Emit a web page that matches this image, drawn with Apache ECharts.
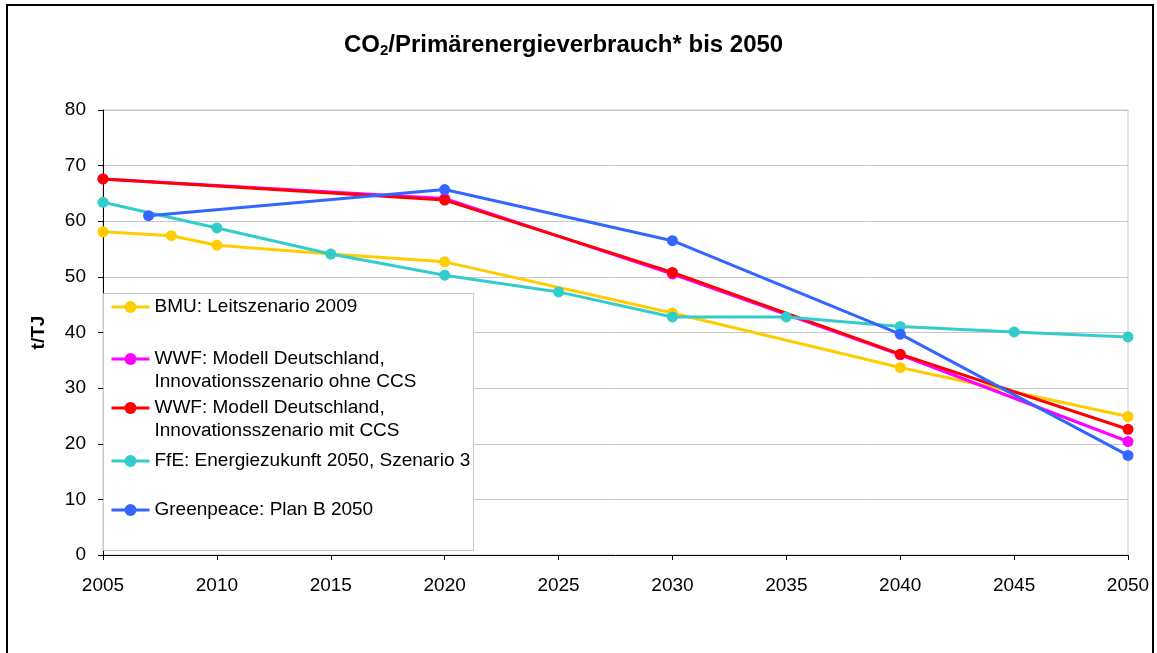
<!DOCTYPE html>
<html>
<head>
<meta charset="utf-8">
<script src="https://cdn.jsdelivr.net/npm/echarts@6/dist/echarts.min.js"></script>
<style>
  html, body { margin: 0; padding: 0; background: #fff; }
  #main { width: 1157px; height: 653px; }
</style>
</head>
<body>
<div id="main"></div>
<script>
// Daten (t/TJ)
var bmuYears = [2005, 2008, 2010, 2015, 2020, 2030, 2040, 2050];
var bmuValues = [58.1, 57.4, 55.7, 54.1, 52.7, 43.5, 33.7, 24.9];

var wwfOhneYears = [2005, 2020, 2030, 2040, 2050];
var wwfOhneValues = [67.6, 64.1, 50.5, 36.0, 20.4];

var wwfMitYears = [2005, 2020, 2030, 2040, 2050];
var wwfMitValues = [67.6, 63.8, 50.8, 36.1, 22.6];

var ffeYears = [2005, 2010, 2015, 2020, 2025, 2030, 2035, 2040, 2045, 2050];
var ffeValues = [63.4, 58.8, 54.1, 50.3, 47.3, 42.8, 42.8, 41.1, 40.1, 39.2];

var gpYears = [2007, 2020, 2030, 2040, 2050];
var gpValues = [61.0, 65.7, 56.5, 39.7, 17.9];

var names = [
    'BMU: Leitszenario 2009',
    'WWF: Modell Deutschland,\nInnovationsszenario ohne CCS',
    'WWF: Modell Deutschland,\nInnovationsszenario mit CCS',
    'FfE: Energiezukunft 2050, Szenario 3',
    'Greenpeace: Plan B 2050'
];
var colors = ['#FFCC00', '#FF00FF', '#FF0000', '#33CCCC', '#3366FF'];

function pairs(xs, ys) {
    var out = [];
    for (var i = 0; i < xs.length; i++) out.push([xs[i], ys[i]]);
    return out;
}

var seriesData = [
    pairs(bmuYears, bmuValues),
    pairs(wwfOhneYears, wwfOhneValues),
    pairs(wwfMitYears, wwfMitValues),
    pairs(ffeYears, ffeValues),
    pairs(gpYears, gpValues)
];

var FONT = '"Liberation Sans", Arial, sans-serif';

var myChart = echarts.init(document.getElementById('main'));

// Legende: Mittelpunkt des Symbols je Eintrag (px)
var legendCenters = [307, 359, 408, 461, 510];
var legends = names.map(function (n, i) {
    var twoLine = n.indexOf('\n') >= 0;
    return {
        left: 110,
        top: twoLine ? legendCenters[i] - 34.5 : legendCenters[i] - 11.5,
        padding: 0,
        itemWidth: 38,
        itemHeight: 15,
        itemGap: 5,
        selectedMode: false,
        data: [n],
        lineStyle: { width: 3 },
        // leere erste Zeile, damit das Symbol an der ersten Textzeile steht
        formatter: function (name) {
            return name.indexOf('\n') >= 0 ? ' \n' + name : name;
        },
        textStyle: {
            fontFamily: FONT,
            fontSize: 19,
            lineHeight: 23,
            color: '#000'
        },
        z: 10
    };
});

option = {
    animation: false,
    backgroundColor: '#fff',
    title: {
        text: 'CO{sub|2}/Primärenergieverbrauch* bis 2050',
        left: 339,
        top: 27,
        textStyle: {
            fontFamily: FONT,
            fontSize: 24,
            fontWeight: 'bold',
            color: '#000',
            lineHeight: 26,
            rich: {
                sub: {
                    fontFamily: FONT,
                    fontSize: 15,
                    fontWeight: 'bold',
                    color: '#000',
                    lineHeight: 10,
                    verticalAlign: 'bottom'
                }
            }
        }
    },
    legend: legends,
    graphic: [
        { // äußerer Rahmen
            type: 'rect',
            shape: { x: 7, y: 5, width: 1146, height: 700 },
            style: { fill: null, stroke: '#000', lineWidth: 2 },
            z: 1
        },
        { // Legendenkasten
            type: 'rect',
            shape: { x: 103.5, y: 293.5, width: 370, height: 257 },
            style: { fill: '#fff', stroke: '#c8c8c8', lineWidth: 1 },
            z: 5
        }
    ],
    grid: {
        left: 103,
        right: 29,
        top: 110,
        bottom: 98,
        show: true,
        borderColor: '#c8c8c8',
        borderWidth: 1
    },
    xAxis: {
        type: 'value',
        min: 2005,
        max: 2050,
        interval: 5,
        axisLine: { show: true, onZero: false, lineStyle: { color: '#000', width: 1 } },
        axisTick: { show: true, length: 5, lineStyle: { color: '#000' } },
        axisLabel: {
            margin: 21,
            fontFamily: FONT,
            fontSize: 19,
            color: '#000',
            formatter: function (v) { return String(v); }
        },
        splitLine: { show: false }
    },
    yAxis: {
        type: 'value',
        min: 0,
        max: 80,
        interval: 10,
        name: 't/TJ',
        nameLocation: 'middle',
        nameGap: 55,
        nameTextStyle: {
            fontFamily: FONT,
            fontSize: 19,
            fontWeight: 'bold',
            color: '#000'
        },
        axisLine: { show: true, lineStyle: { color: '#000', width: 1 } },
        axisTick: { show: true, length: 5, lineStyle: { color: '#000' } },
        axisLabel: {
            margin: 17,
            fontFamily: FONT,
            fontSize: 19,
            color: '#000'
        },
        splitLine: { show: true, lineStyle: { color: '#c8c8c8', width: 1 } }
    },
    series: names.map(function (n, i) {
        return {
            name: n,
            type: 'line',
            data: seriesData[i],
            symbol: 'circle',
            symbolSize: 11,
            showAllSymbol: true,
            lineStyle: { width: 3, color: colors[i] },
            itemStyle: { color: colors[i] },
            z: 2 + i * 0.1
        };
    })
};

myChart.setOption(option);
</script>
</body>
</html>
